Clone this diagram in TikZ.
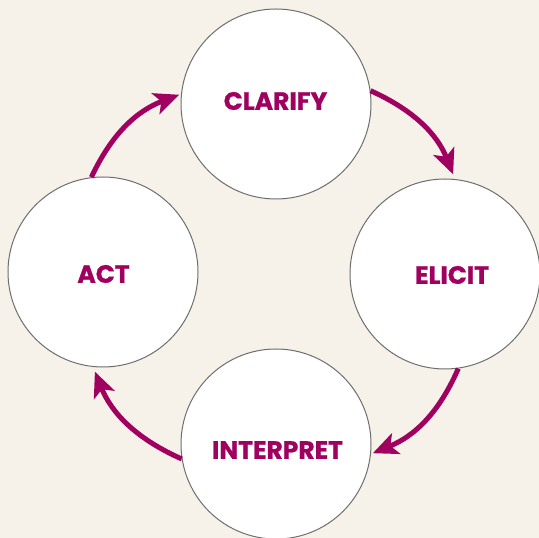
\documentclass[tikz,border=0pt]{standalone}
\usepackage{fontspec}
\setmainfont{Poppins}[BoldFeatures={FakeBold=0.9}]
\usetikzlibrary{arrows.meta}
\definecolor{bgcream}{HTML}{F6F1E9}
\definecolor{plum}{HTML}{A0005F}
\definecolor{ringgray}{HTML}{6E6E6E}
\begin{document}
\begin{tikzpicture}[x=1pt,y=1pt,
  stage/.style={circle, draw=ringgray, line width=1pt, fill=white,
    minimum size=190pt, inner sep=0pt},
  stagetext/.style={text=plum, font=\bfseries\fontsize{25}{30}\selectfont, inner sep=0pt},
  cycle/.style={draw=plum, line width=5pt,
    -{Stealth[length=25pt, width=22pt, inset=6pt]}}]
  \fill[bgcream] (0,0) rectangle (539,538);
  \useasboundingbox (0,0) rectangle (539,538);

  % the four stages
  \node[stage] (clarify) at (276,434) {};
  \node[stage] (elicit) at (445,264) {};
  \node[stage] (interpret) at (276,94) {};
  \node[stage] (act) at (103,266) {};

  \node[stagetext] (tclarify) at (275.5,437) {CLARIFY};
  \node[stagetext] (telicit) at (452,263) {ELICIT};
  \node[stagetext] (tinterpret) at (277.5,88) {INTERPRET};
  \node[stagetext] (tact) at (103.5,264) {ACT};

  % clockwise arrows between the stages
  \draw[cycle, shorten >=5pt] (clarify.8) to[bend left=22] (elicit.84);
  \draw[cycle, shorten >=2pt] (elicit.-82) to[bend left=22] (interpret.-6);
  \draw[cycle, shorten >=5pt] (interpret.189) to[bend left=22] (act.264);
  \draw[cycle, shorten >=2pt] (act.97) to[bend left=22] (clarify.174);
\end{tikzpicture}
\end{document}
